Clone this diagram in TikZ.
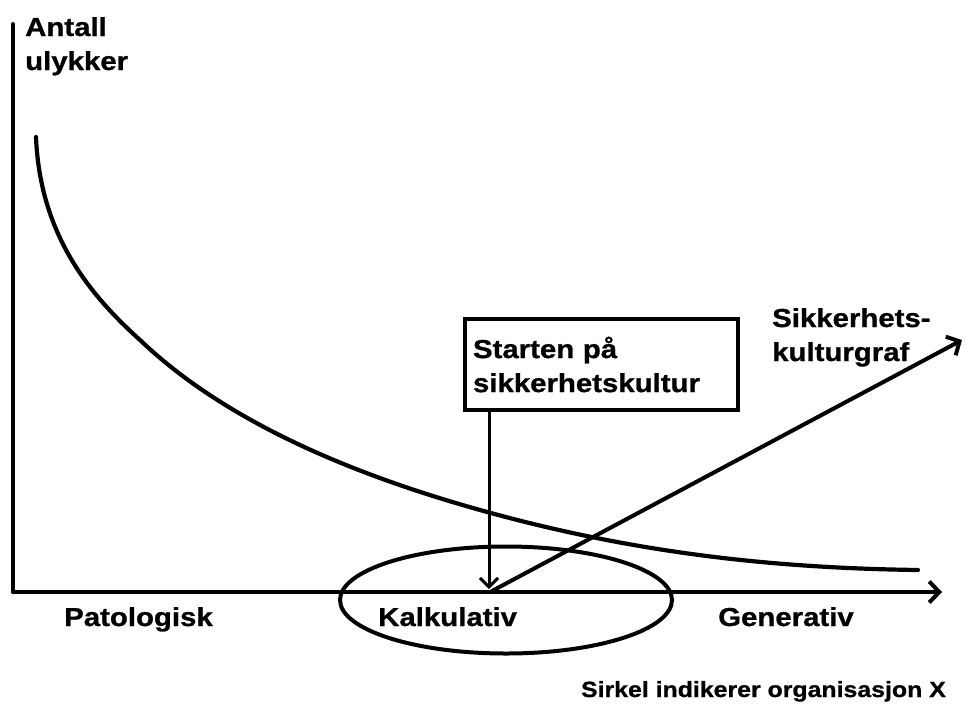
\documentclass[tikz,border=0pt]{standalone}
\usepackage{fontspec}
\setmainfont{Liberation Sans}[FakeStretch=1.13,
  BoldFeatures={FakeStretch=1.13,FakeBold=0.9}]
\usetikzlibrary{arrows.meta,shapes.geometric}

\begin{document}
\begin{tikzpicture}[x=1pt,y=-1pt,
  ink/.style={line width=4pt,line cap=round,line join=round},
  barb/.style={-{Straight Barb[length=10pt,width=21pt,line width=4pt]}},
  bigtxt/.style={font=\bfseries\fontsize{26}{34}\selectfont,inner sep=0pt},
  smalltxt/.style={font=\bfseries\fontsize{22}{26}\selectfont,inner sep=0pt}]

  \useasboundingbox (0,0) rectangle (965,704);

  % axes
  \coordinate (yTop) at (13,24);
  \coordinate (origin) at (13,592);
  \coordinate (xEnd) at (942,592);
  \draw[ink] (yTop) -- (origin);
  \draw[ink,barb] (origin) -- (xEnd);

  % axis title (anchored on the baseline of its last line)
  \node[bigtxt,anchor=base west,align=left] (ytitle) at (25,70)
    {Antall\\ulykker};

  % accident curve
  \draw[ink,line width=4.2pt] (36,137)
    .. controls (40,235) and (90,295) .. (140,340)
    .. controls (227,423) and (355,475) .. (480,510)
    .. controls (630,552) and (768,568) .. (918,570);

  % organisation marker
  \node[ellipse,draw,line width=4pt,minimum width=332pt,minimum height=107pt,
        inner sep=0pt] (circ) at (506,600) {};

  % category labels
  \node[bigtxt,anchor=base west] (pat) at (64,626) {Patologisk};
  \node[bigtxt,anchor=base west] (kalk) at (378,626) {Kalkulativ};
  \node[bigtxt,anchor=base west] (gen) at (718,626) {Generativ};

  % start box
  \node[draw,line width=4pt,minimum width=273pt,minimum height=91pt,
        bigtxt,align=left,text width=257pt] (start) at (601.5,364.5)
    {Starten på\\sikkerhetskultur};
  \coordinate (startPt) at (489,589);
  \draw[line width=3pt,-{Straight Barb[length=9pt,width=18pt,line width=3pt]}]
    (start.south -| startPt) -- (startPt);

  % safety culture graph
  \coordinate (cultBase) at (492,591);
  \coordinate (cultTip) at (962,340);
  \draw[ink,barb] (cultBase) -- (cultTip);
  \node[bigtxt,anchor=base west,align=left] (cultlabel) at (772,361)
    {Sikkerhets-\\kulturgraf};

  % note
  \node[smalltxt,anchor=base east] (note) at (946,697)
    {Sirkel indikerer organisasjon X};
\end{tikzpicture}
\end{document}
